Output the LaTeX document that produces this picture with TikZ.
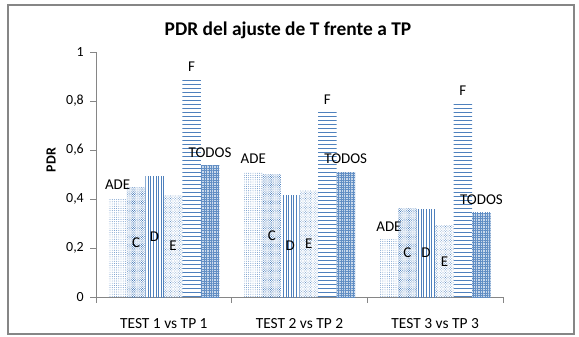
\documentclass[tikz,border=0pt]{standalone}
\usepackage{fontspec}
\setmainfont{Carlito}
\usetikzlibrary{patterns.meta}

\definecolor{barblue}{RGB}{79,129,189}
\definecolor{axisgray}{RGB}{134,134,134}

\tikzset{
    axisline/.style={draw=axisgray, line width=0.8bp},
    ticklabel/.style={font=\fontsize{14}{16}\selectfont, anchor=east, inner sep=0pt},
    catlabel/.style={font=\fontsize{15.5}{18}\selectfont, anchor=base, inner sep=0pt},
    barlabel/.style={font=\fontsize{15}{18}\selectfont, anchor=base, inner sep=0pt},
    barfill/.style={bar#1},
    barADE/.style={pattern={Dots[radius=0.45bp, distance=2.2bp]}, pattern color=barblue},
    barC/.style={pattern={Dots[radius=0.55bp, distance=1.6bp, angle=45]}, pattern color=barblue},
    barD/.style={pattern={Lines[angle=90, distance=2.6bp, line width=0.7bp]}, pattern color=barblue},
    barE/.style={pattern={Dots[radius=0.5bp, distance=1.8bp, angle=45]}, pattern color=barblue!85},
    barF/.style={pattern={Lines[angle=0, distance=4bp, line width=0.9bp]}, pattern color=barblue},
    barTODOS/.style={preaction={fill=barblue!30},
        pattern={Hatch[angle=0, distance=2.4bp, line width=0.6bp]}, pattern color=barblue!90},
}

\begin{document}
\begin{tikzpicture}[x=1bp, y=1bp]
    \useasboundingbox (0,0) rectangle (579,336);
    % chart area
    \draw[draw=axisgray, line width=1.3bp] (8,2) rectangle (574,331);
    \node[font=\fontsize{19.5}{22}\selectfont\bfseries, anchor=base] (title) at (288,301) {PDR del ajuste de T frente a TP};
    \node[font=\fontsize{14}{16}\selectfont\bfseries, rotate=90] (ytitle) at (51,176) {PDR};

    % axes
    \coordinate (origin) at (96,39);
    \coordinate (ytop) at (96,284);
    \coordinate (xend) at (503,39);
    \draw[axisline] (ytop) -- (origin) -- (xend);
    \foreach \t/\lab in {0/0, 1/{0,2}, 2/{0,4}, 3/{0,6}, 4/{0,8}, 5/1} {
        \draw[axisline] (90,39+49*\t) -- (96,39+49*\t);
        \node[ticklabel] (tick\t) at (84,39+49*\t) {\lab};
    }
    \foreach \c in {0,1,2,3}
        \draw[axisline] (96+135.67*\c,39) -- (96+135.67*\c,33);

    % bars
    \foreach \g/\va/\vc/\vd/\ve/\vf/\vt in {1/0.404/0.446/0.49/0.416/0.886/0.535,
                                             2/0.51/0.498/0.416/0.434/0.752/0.509,
                                             3/0.233/0.362/0.359/0.29/0.787/0.344} {
        \pgfmathsetmacro\cx{96+135.67*(\g-0.5)}
        \node[catlabel] (cat\g) at (\cx,8) {TEST \g\ vs TP \g};
        \foreach \k/\name/\v/\out in {1/ADE/\va/1, 2/C/\vc/0, 3/D/\vd/0, 4/E/\ve/0, 5/F/\vf/1, 6/TODOS/\vt/1} {
            \pgfmathsetmacro\xl{\cx+(\k-4)*18.5}
            \pgfmathsetmacro\yt{39+\v*245}
            \pgfmathsetmacro\ly{\out*(\yt+8.5)+(1-\out)*((39+\yt)/2-4.7)}
            \fill[barfill/.expanded=\name] (\xl,39) rectangle (\xl+18.5,\yt);
            \node[barlabel] (lbl-\g-\name) at (\xl+9.25,\ly) {\name};
        }
    }
\end{tikzpicture}
\end{document}
